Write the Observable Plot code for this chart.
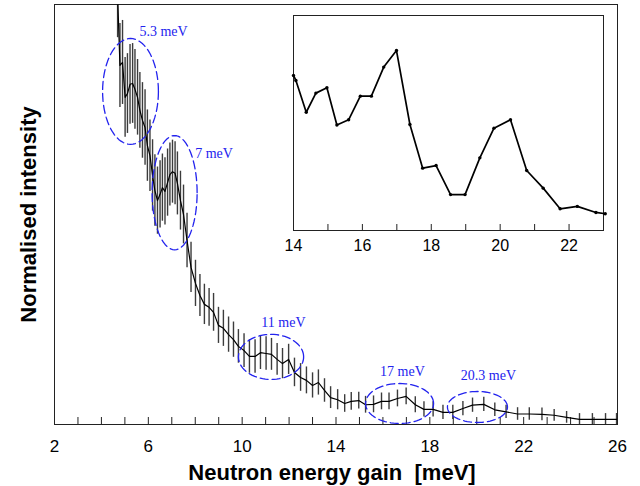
<!DOCTYPE html>
<html>
<head>
<meta charset="utf-8">
<script src="https://cdn.jsdelivr.net/npm/d3@7"></script>
<script src="https://cdn.jsdelivr.net/npm/@observablehq/plot@0.6"></script>
<style>
  body { margin: 0; background: white; }
  #wrap { position: relative; width: 640px; height: 486px; }
  #inset { position: absolute; left: 283px; top: 8px; }
</style>
</head>
<body>
<div id="wrap"><div id="main"></div><div id="inset"></div></div>
<script>
// ---- main spectrum (arbitrary intensity units) ----
const energy = [
  4.69, 4.79, 4.90, 5.01, 5.11, 5.22, 5.33, 5.43, 5.54, 5.64, 5.75, 5.86, 5.96, 6.07,
  6.18, 6.28, 6.39, 6.50, 6.60, 6.71, 6.82, 6.92, 7.03, 7.14, 7.24, 7.37, 7.50, 7.65,
  7.82, 8.01, 8.20, 8.39, 8.59, 8.78, 8.99, 9.20, 9.42, 9.63, 9.84, 10.08, 10.31, 10.55,
  10.78, 11.02, 11.25, 11.49, 11.72, 11.98, 12.23, 12.49, 12.74, 13.00, 13.25, 13.51, 13.77, 14.07,
  14.37, 14.65, 14.97, 15.26, 15.60, 15.94, 16.26, 16.62, 16.99, 17.38, 17.75, 18.14, 18.56, 18.98,
  19.41, 19.82, 20.30, 20.77, 21.25, 21.74, 22.24, 22.78, 23.30, 23.83, 24.38, 24.93, 25.49, 25.96
];
const intensity = [
  102.1, 85.5, 86.2, 77.9, 78.8, 81.0, 81.2, 79.8, 77.9, 74.8, 72.4, 70.7, 66.4, 64.0,
  59.3, 55.7, 53.3, 54.8, 56.4, 55.5, 57.6, 59.5, 60.2, 59.8, 57.4, 53.3, 50.0, 43.8,
  37.4, 33.6, 30.7, 28.6, 27.9, 26.7, 23.6, 22.9, 21.4, 20.2, 18.6, 17.6, 16.2, 16.2,
  17.1, 16.9, 16.7, 15.5, 14.5, 15.5, 12.4, 11.2, 10.5, 9.3, 10.0, 8.1, 6.4, 5.9,
  5.0, 5.5, 5.7, 4.7, 4.8, 5.5, 5.5, 6.2, 6.7, 4.7, 3.6, 3.6, 2.9, 2.9,
  3.8, 4.6, 4.8, 3.5, 3.0, 2.5, 2.5, 2.4, 2.2, 1.7, 1.2, 1.2, 1.2, 1.2
];
const errors = [
  10, 10, 10, 9.5, 9.5, 9.5, 9.5, 9.5, 9, 9, 9, 9, 8.5, 8.5,
  8.5, 8.5, 8, 8, 8, 8, 8, 7.5, 7.5, 7.5, 7.5, 7, 7, 6.5,
  6, 5.5, 5, 4.8, 4.5, 4.5, 4.3, 4.3, 4.2, 4.2, 4, 4, 4, 4,
  4, 4, 3.8, 3.8, 3.6, 3.6, 3.4, 3.3, 3.2, 3, 3, 2.8, 2.6, 2.4,
  2.1, 2.1, 2.0, 2.0, 2.0, 2.0, 2.0, 2.0, 2.0, 1.9, 1.8, 1.8, 1.7, 1.7,
  1.7, 1.7, 1.7, 1.6, 1.6, 1.5, 1.5, 1.5, 1.4, 1.4, 1.4, 1.4, 1.4, 1.4
];
const xTickLabels = [2, 6, 10, 14, 18, 22, 26];
const xMinorTicks = [2,3,4,5,6,7,8,9,10,11,12,13,14,15,16,17,18,19,20,21,22,23,24,25,26];

// ---- annotations (ellipse centre / radii in data units, label position) ----
const peakLabels = ["5.3 meV", "7 meV", "11 meV", "17 meV", "20.3 meV"];
const peakCx = [5.24, 7.12, 11.23, 16.71, 20.03];
const peakCy = [79.3, 55.2, 16.1, 5.0, 4.17];
const peakRx = [1.19, 0.96, 1.39, 1.45, 1.28];
const peakRy = [12.6, 13.6, 5.36, 4.76, 3.69];
const labelX = [6.65, 8.80, 11.76, 16.83, 20.50];
const labelY = [93.6, 64.5, 24.3, 12.6, 11.7];

// ---- inset (14–23 meV zoom) ----
const insetEnergy = [
  14.00, 14.07, 14.37, 14.65, 14.97, 15.26, 15.60, 15.94, 16.26, 16.62, 16.99, 17.38, 17.75,
  18.14, 18.56, 18.98, 19.41, 19.82, 20.30, 20.77, 21.25, 21.74, 22.24, 22.78, 23.05
];
const insetIntensity = [
  72.1, 69.8, 55.0, 63.9, 66.4, 49.1, 51.5, 62.5, 62.5, 76.0, 83.7, 49.3, 29.0,
  30.2, 16.7, 16.7, 33.8, 47.6, 51.5, 27.9, 19.7, 10.1, 11.2, 8.4, 7.8
];
const insetTickLabels = [14, 16, 18, 20, 22];
const insetMinorTicks = [14, 15, 16, 17, 18, 19, 20, 21, 22, 23];

// ---- build tables ----
const rows = energy.map((E, i) => ({E, v: intensity[i], e: errors[i]}));
const ellipsePts = [];
peakLabels.forEach((lab, k) => {
  for (let a = 0; a <= 72; a++) {
    const t = a / 72 * 2 * Math.PI;
    ellipsePts.push({id: k, x: peakCx[k] + peakRx[k] * Math.cos(t), y: peakCy[k] + peakRy[k] * Math.sin(t)});
  }
});
const labelRows = peakLabels.map((text, k) => ({text, x: labelX[k], y: labelY[k]}));
const insetRows = insetEnergy.map((E, i) => ({E, v: insetIntensity[i]}));

const sans = "'Liberation Sans', Arial, Helvetica, sans-serif";
const serif = "'Liberation Serif', 'Times New Roman', serif";
const blue = "#2323ee";

const mainH = 486, mT = 4, mB = 62;
const frameH = mainH - mT - mB;

const main = Plot.plot({
  width: 640, height: mainH,
  marginLeft: 54, marginRight: 23, marginTop: mT, marginBottom: mB,
  style: {fontFamily: sans, background: "white", overflow: "visible", color: "black"},
  x: {domain: [2, 26]},
  y: {domain: [0, 100], axis: null},
  marks: [
    Plot.frame({stroke: "#222", strokeWidth: 1}),
    Plot.tickX(xMinorTicks, {x: d => d, insetTop: frameH - 7, stroke: "#222"}),
    Plot.axisX({ticks: xTickLabels, tickSize: 0, tickPadding: 15, fontSize: 17, label: null}),
    Plot.ruleX(rows, {x: "E", y1: d => d.v - d.e, y2: d => d.v + d.e, stroke: "#3c3c3c", strokeWidth: 1.4, clip: true}),
    Plot.line(rows, {x: "E", y: "v", stroke: "black", strokeWidth: 1.2, clip: true}),
    Plot.line(ellipsePts, {x: "x", y: "y", z: "id", stroke: blue, strokeWidth: 1.3, strokeDasharray: "8,4"}),
    Plot.text(labelRows, {x: "x", y: "y", text: "text", fill: blue, fontFamily: serif, fontSize: 14}),
    Plot.text(["Neutron energy gain\u00a0\u00a0[meV]"], {frameAnchor: "bottom", dy: 48, dx: -4, fontSize: 22, fontWeight: "bold", lineAnchor: "middle", textAnchor: "middle"}),
    Plot.text(["Normalised intensity"], {frameAnchor: "left", dx: -26, rotate: -90, fontSize: 22, fontWeight: "bold", lineAnchor: "middle", textAnchor: "middle"})
  ]
});
document.getElementById("main").appendChild(main);

const insH = 262, iT = 7, iB = 40;
const insFrameH = insH - iT - iB;
const inset = Plot.plot({
  width: 330, height: insH,
  marginLeft: 10, marginRight: 10, marginTop: iT, marginBottom: iB,
  style: {fontFamily: sans, background: "transparent", overflow: "visible", color: "black"},
  x: {domain: [14, 23]},
  y: {domain: [0, 100], axis: null},
  marks: [
    Plot.frame({stroke: "#222", strokeWidth: 1}),
    Plot.tickX(insetMinorTicks, {x: d => d, insetTop: insFrameH - 6, stroke: "#222"}),
    Plot.axisX({ticks: insetTickLabels, tickSize: 0, tickPadding: 9, fontSize: 16, label: null}),
    Plot.line(insetRows, {x: "E", y: "v", stroke: "black", strokeWidth: 1.7}),
    Plot.dot(insetRows, {x: "E", y: "v", r: 1.7, fill: "black"})
  ]
});
document.getElementById("inset").appendChild(inset);
</script>
</body>
</html>
